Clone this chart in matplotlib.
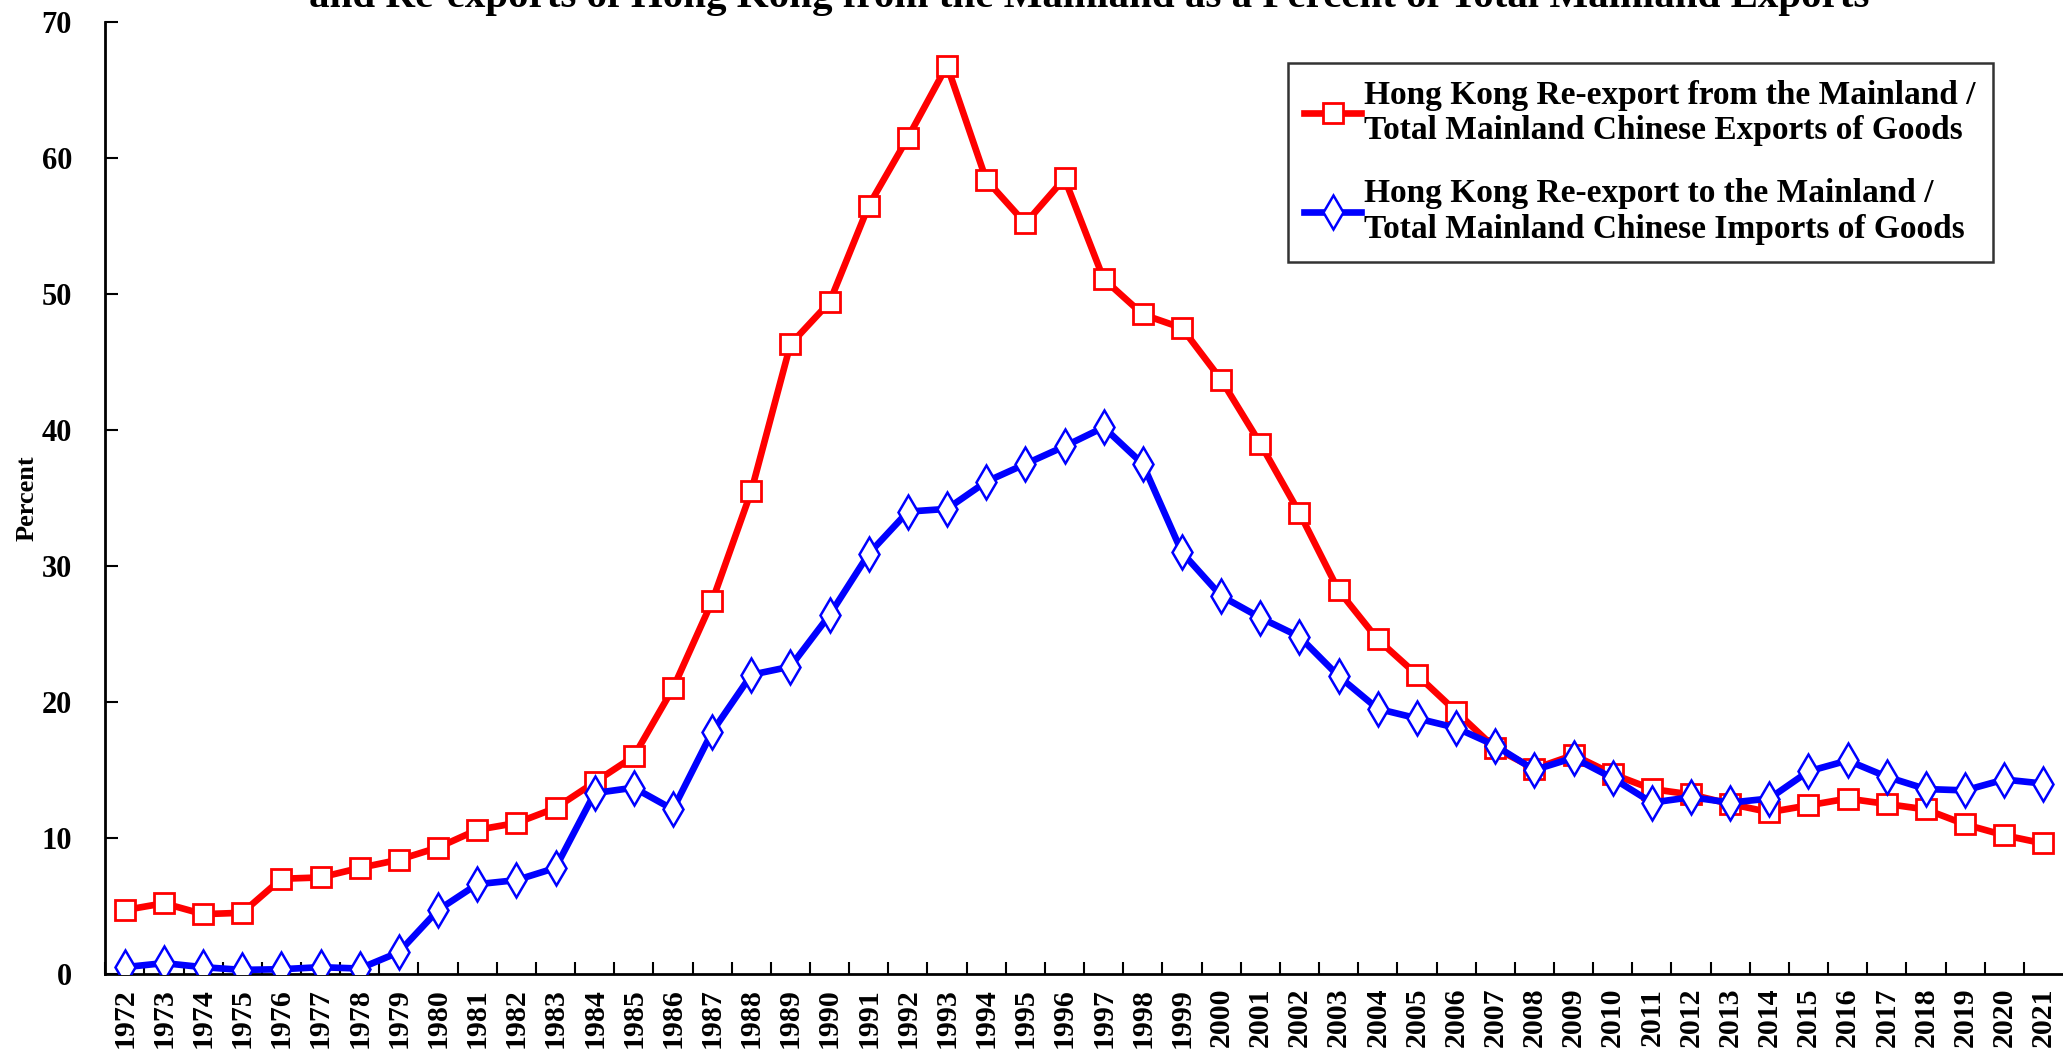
import matplotlib

matplotlib.use("Agg")
import matplotlib.pyplot as plt

plt.rcParams["font.family"] = ["Liberation Serif", "DejaVu Serif"]
plt.rcParams["font.weight"] = "bold"

years = list(range(1972, 2022))

# HK re-exports from the Mainland / total Mainland exports (%)
reexport_from_mainland = [
    4.7, 5.2, 4.4, 4.5, 7.0, 7.1, 7.8, 8.4, 9.3, 10.6,
    11.1, 12.2, 14.1, 16.0, 21.0, 27.4, 35.5, 46.3, 49.4, 56.5,
    61.5, 66.8, 58.4, 55.2, 58.5, 51.1, 48.5, 47.5, 43.7, 39.0,
    33.9, 28.2, 24.6, 22.0, 19.3, 16.6, 15.1, 16.1, 14.7, 13.6,
    13.2, 12.5, 11.9, 12.4, 12.9, 12.5, 12.1, 11.0, 10.2, 9.6,
]
# HK re-exports to the Mainland / total Mainland imports (%)
reexport_to_mainland = [
    0.5, 0.8, 0.5, 0.3, 0.35, 0.5, 0.4, 1.6, 4.7, 6.6,
    6.9, 7.8, 13.3, 13.7, 12.1, 17.8, 22.0, 22.6, 26.4, 30.9,
    34.0, 34.2, 36.2, 37.5, 38.8, 40.2, 37.5, 31.0, 27.8, 26.2,
    24.8, 21.9, 19.5, 18.8, 18.1, 16.8, 15.0, 15.9, 14.4, 12.6,
    13.0, 12.6, 12.9, 14.9, 15.7, 14.5, 13.6, 13.5, 14.3, 14.0,
]

label_from = "Hong Kong Re-export from the Mainland /\nTotal Mainland Chinese Exports of Goods"
label_to = "Hong Kong Re-export to the Mainland /\nTotal Mainland Chinese Imports of Goods"
title = "and Re-exports of Hong Kong from the Mainland as a Percent of Total Mainland Exports"

fig = plt.figure(figsize=(20.63, 10.5), dpi=100)
ax = fig.add_axes([0.051, 0.0724, 0.949, 0.9066])

ax.plot(years, reexport_from_mainland, color="#ff0000", linewidth=4.8,
        marker="s", markersize=15, markerfacecolor="white",
        markeredgecolor="#ff0000", markeredgewidth=2, label=label_from, zorder=3)
ax.plot(years, reexport_to_mainland, color="#0000ff", linewidth=4.8,
        marker="d", markersize=17, markerfacecolor="white",
        markeredgecolor="#0000ff", markeredgewidth=1.8, label=label_to, zorder=4)

ax.set_xlim(1971.5, 2021.5)
ax.set_ylim(0, 70)
# ticks sit between years, labels at the year centres
ax.set_xticks([y + 0.5 for y in years[:-1]] + [1971.5], minor=False)
ax.set_xticks(years, minor=True)
ax.set_xticklabels([], minor=False)
ax.set_xticklabels([str(y) for y in years], minor=True, rotation=90, fontsize=21.5)
ax.tick_params(axis="x", which="major", direction="in", length=9, width=1.5)
ax.tick_params(axis="x", which="minor", length=0, pad=10)
ax.set_yticks(range(0, 71, 10))
ax.tick_params(axis="y", direction="in", length=9, width=1.5, labelsize=22, pad=24)

for side in ("top", "right"):
    ax.spines[side].set_visible(False)
for side in ("left", "bottom"):
    ax.spines[side].set_linewidth(2)

ax.set_ylabel("Percent", fontsize=19, fontweight="bold", labelpad=2)

leg = ax.legend(loc="upper left", bbox_to_anchor=(0.604, 0.957), fontsize=24,
                frameon=True, fancybox=False, edgecolor="black",
                handlelength=1.7, handletextpad=0.1, labelspacing=0.95,
                borderpad=0.5, borderaxespad=0)
leg.get_frame().set_linewidth(1.8)

fig.text(0.528, 0.993, title, ha="center", va="baseline", fontsize=29.5, fontweight="bold")

fig.savefig("out.png", dpi=100)
